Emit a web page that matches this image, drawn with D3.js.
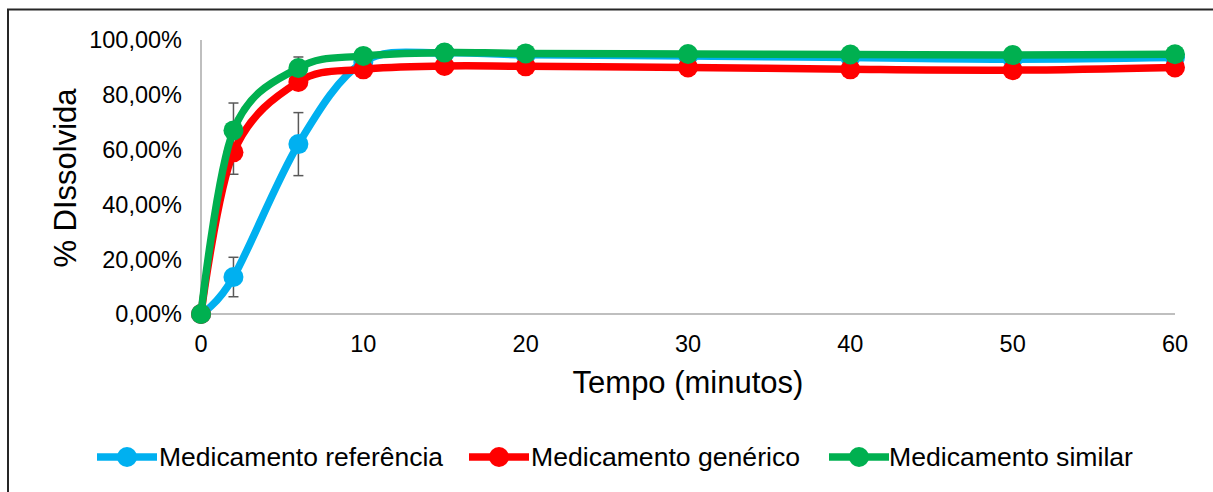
<!DOCTYPE html>
<html>
<head>
<meta charset="utf-8">
<script src="https://cdn.jsdelivr.net/npm/d3@7"></script>
<style>
  body { margin: 0; background: #fff; }
  svg { display: block; font-family: "Liberation Sans", Arial, sans-serif; }
</style>
</head>
<body>
<svg id="chart" width="1213" height="492"></svg>
<script>
// Tempo (minutos)
const tempo = [0, 2, 6, 10, 15, 20, 30, 40, 50, 60];
// % dissolvida por medicamento
const referencia = [0, 13.5, 62, 92, 95.3, 94.6, 94.2, 93.6, 93, 93.6];
const generico   = [0, 59, 84.7, 89.3, 90.5, 90.4, 90, 89.3, 89, 90];
const similar    = [0, 67, 89.8, 94.2, 95.4, 95.1, 94.9, 94.7, 94.5, 94.8];
// desvio padrão (barras de erro)
const refErr = [0, 7.2, 11.5, 1, 0.5, 0.5, 0.5, 0.5, 0.5, 0.5];
const genErr = [0, 8, 2, 0.8, 0.5, 0.5, 0.5, 0.5, 0.5, 0.5];
const simErr = [0, 10, 4, 0.8, 0.5, 0.5, 0.5, 0.5, 0.5, 0.5];

const seriesNames = ["Medicamento referência", "Medicamento genérico", "Medicamento similar"];
const yTicks = [0, 20, 40, 60, 80, 100];
const xTicks = [0, 10, 20, 30, 40, 50, 60];

const colors = ["#00B0F0", "#FF0000", "#00B050"];
const series = [referencia, generico, similar].map((vals, i) => ({
  name: seriesNames[i],
  color: colors[i],
  points: tempo.map((t, j) => ({ t, v: vals[j], e: [refErr, genErr, simErr][i][j] }))
}));

const svg = d3.select("#chart");

// outer frame (cut by the picture edge on right/bottom)
svg.append("rect")
  .attr("x", 8).attr("y", 9.5).attr("width", 1230).attr("height", 520)
  .attr("fill", "none").attr("stroke", "#262626").attr("stroke-width", 2);

const x = d3.scaleLinear().domain([0, 60]).range([201, 1175]);
const y = d3.scaleLinear().domain([0, 100]).range([314, 40]);

// axes lines
svg.append("line").attr("x1", x(0)).attr("x2", x(0)).attr("y1", y(100)).attr("y2", y(0))
  .attr("stroke", "#BFBFBF").attr("stroke-width", 2);
svg.append("line").attr("x1", x(0)).attr("x2", x(60)).attr("y1", y(0)).attr("y2", y(0))
  .attr("stroke", "#BFBFBF").attr("stroke-width", 2);

const fmt = d => d3.format(".2f")(d).replace(".", ",") + "%";

svg.append("g").selectAll("text")
  .data(yTicks).join("text")
  .attr("x", 182).attr("y", d => y(d))
  .attr("dy", "0.36em")
  .attr("text-anchor", "end")
  .style("font-size", "23.5px")
  .attr("fill", "#000")
  .text(fmt);

svg.append("g").selectAll("text")
  .data(xTicks).join("text")
  .attr("x", d => x(d)).attr("y", 352)
  .attr("text-anchor", "middle")
  .style("font-size", "23.5px")
  .attr("fill", "#000")
  .text(d => d);

// axis titles
svg.append("text")
  .attr("transform", "translate(76,178) rotate(-90)")
  .attr("text-anchor", "middle")
  .style("font-size", "31px")
  .text("% DIssolvida");

svg.append("text")
  .attr("x", 688).attr("y", 393)
  .attr("text-anchor", "middle")
  .style("font-size", "31px")
  .text("Tempo (minutos)");

// error bars (under the lines)
const errG = svg.append("g").attr("stroke", "#595959").attr("stroke-width", 1.5);
series.forEach(s => {
  s.points.filter(p => p.e > 0).forEach(p => {
    const cx = x(p.t);
    const y1 = y(p.v + p.e), y2 = y(p.v - p.e);
    errG.append("line").attr("x1", cx).attr("x2", cx).attr("y1", y1).attr("y2", y2);
    errG.append("line").attr("x1", cx - 5).attr("x2", cx + 5).attr("y1", y1).attr("y2", y1);
    errG.append("line").attr("x1", cx - 5).attr("x2", cx + 5).attr("y1", y2).attr("y2", y2);
  });
});

const line = d3.line()
  .x(d => x(d.t))
  .y(d => y(d.v))
  .curve(d3.curveCardinal.tension(0));

series.forEach(s => {
  const g = svg.append("g");
  g.append("path")
    .attr("d", line(s.points))
    .attr("fill", "none")
    .attr("stroke", s.color)
    .attr("stroke-width", 7.5)
    .attr("stroke-linejoin", "round");
  g.selectAll("circle")
    .data(s.points).join("circle")
    .attr("cx", d => x(d.t))
    .attr("cy", d => y(d.v))
    .attr("r", 10)
    .attr("fill", s.color);
});

// legend
const legendPos = [
  { x0: 97, tx: 159, tw: 284 },
  { x0: 469, tx: 531, tw: 269 },
  { x0: 829, tx: 889, tw: 244 }
];
series.forEach((s, i) => {
  const p = legendPos[i];
  const g = svg.append("g");
  g.append("line").attr("x1", p.x0).attr("x2", p.x0 + 60).attr("y1", 457).attr("y2", 457)
    .attr("stroke", s.color).attr("stroke-width", 7.5);
  g.append("circle").attr("cx", p.x0 + 30).attr("cy", 457).attr("r", 10).attr("fill", s.color);
  g.append("text")
    .attr("x", p.tx).attr("y", 466)
    .style("font-size", "25px")
    .attr("textLength", p.tw)
    .attr("lengthAdjust", "spacingAndGlyphs")
    .text(s.name);
});
</script>
</body>
</html>
